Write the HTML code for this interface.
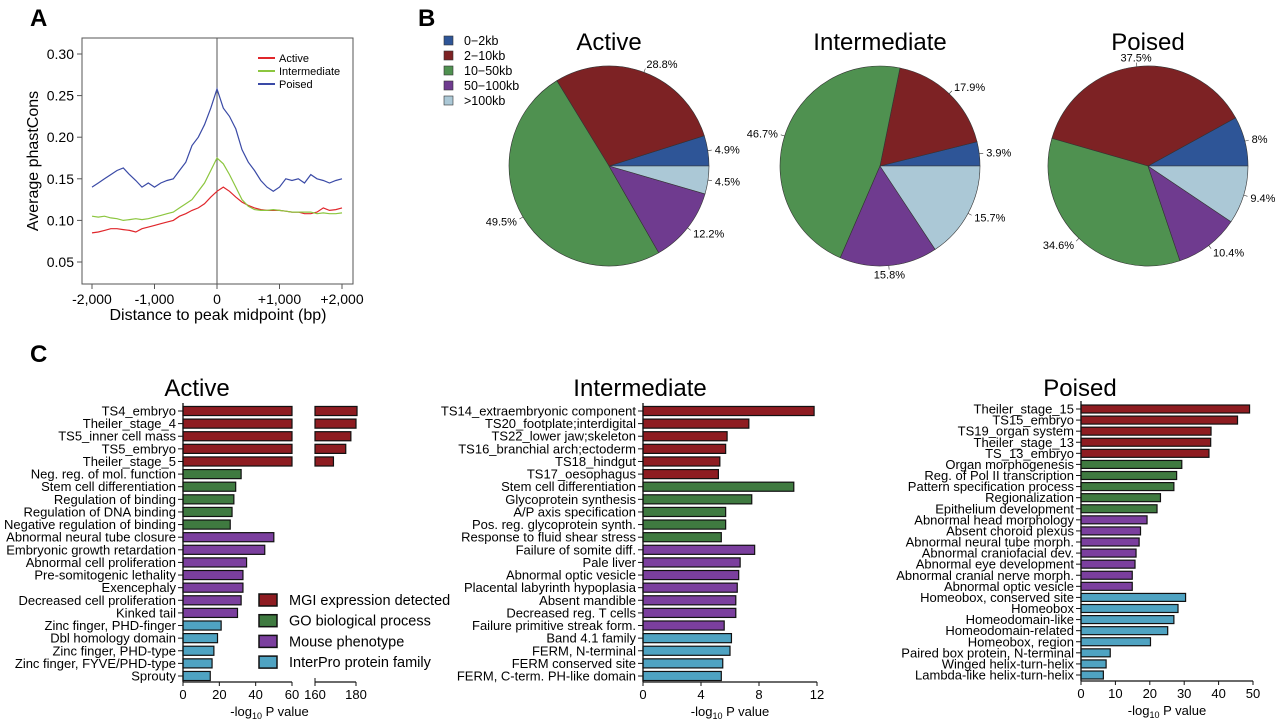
<!DOCTYPE html>
<html><head><meta charset="utf-8"><style>
html,body{margin:0;padding:0;background:#fff;}
svg{display:block;font-family:"Liberation Sans",Arial,sans-serif;}
</style></head><body>
<svg id="fig" width="1280" height="721" viewBox="0 0 1280 721">
<text x="30" y="26" font-size="24" font-weight="bold">A</text>
<text x="418" y="26" font-size="24" font-weight="bold">B</text>
<text x="30" y="362" font-size="24" font-weight="bold">C</text>
<g id="pa"></g>
<g id="pb"></g>
<g id="pc"></g>
</svg>
<script>
// ---------- Panel A data ----------
const aPositions=[-2000,-1900,-1800,-1700,-1600,-1500,-1400,-1300,-1200,-1100,-1000,-900,-800,-700,-600,-500,-400,-300,-200,-100,0,100,200,300,400,500,600,700,800,900,1000,1100,1200,1300,1400,1500,1600,1700,1800,1900,2000];
const aPoised=[0.140,0.145,0.150,0.155,0.160,0.163,0.155,0.148,0.140,0.145,0.140,0.145,0.148,0.150,0.160,0.170,0.190,0.200,0.215,0.235,0.258,0.235,0.225,0.210,0.185,0.170,0.160,0.148,0.140,0.135,0.140,0.150,0.148,0.150,0.145,0.155,0.150,0.148,0.145,0.148,0.150];
const aIntermediate=[0.105,0.104,0.105,0.103,0.102,0.100,0.101,0.102,0.101,0.102,0.104,0.106,0.108,0.110,0.115,0.120,0.125,0.135,0.145,0.160,0.175,0.168,0.155,0.140,0.125,0.117,0.113,0.112,0.112,0.113,0.112,0.111,0.110,0.110,0.110,0.110,0.108,0.109,0.108,0.108,0.109];
const aActive=[0.085,0.086,0.088,0.090,0.090,0.089,0.088,0.086,0.090,0.092,0.094,0.096,0.098,0.100,0.105,0.108,0.112,0.115,0.120,0.128,0.135,0.140,0.135,0.128,0.122,0.118,0.115,0.113,0.112,0.112,0.112,0.111,0.110,0.110,0.108,0.108,0.110,0.115,0.112,0.113,0.115];
const aYTicks=[0.05,0.10,0.15,0.20,0.25,0.30];
const aXTicks=[-2000,-1000,0,1000,2000];
const aXTickLabels=["-2,000","-1,000","0","+1,000","+2,000"];
// ---------- Panel B data ----------
const pieCategories=["0\u22122kb","2\u221210kb","10\u221250kb","50\u2212100kb",">100kb"];
const pieActive=[4.9,28.8,49.5,12.2,4.5];
const pieIntermediate=[3.9,17.9,46.7,15.8,15.7];
const piePoised=[8,37.5,34.6,10.4,9.4];
// ---------- Panel C data ----------
const cActiveLabels=["TS4_embryo","Theiler_stage_4","TS5_inner cell mass","TS5_embryo","Theiler_stage_5","Neg. reg. of mol. function","Stem cell differentiation","Regulation of binding","Regulation of DNA binding","Negative regulation of binding","Abnormal neural tube closure","Embryonic growth retardation","Abnormal cell proliferation","Pre-somitogenic lethality","Exencephaly","Decreased cell proliferation","Kinked tail","Zinc finger, PHD-finger","Dbl homology domain","Zinc finger, PHD-type","Zinc finger, FYVE/PHD-type","Sprouty"];
const cActiveValues=[180.5,180,177.5,175,169,32,29,28,27,26,50,45,35,33,33,32,30,21,19,17,16,15];
const cActiveGroups=[0,0,0,0,0,1,1,1,1,1,2,2,2,2,2,2,2,3,3,3,3,3];
const cInterLabels=["TS14_extraembryonic component","TS20_footplate;interdigital","TS22_lower jaw;skeleton","TS16_branchial arch;ectoderm","TS18_hindgut","TS17_oesophagus","Stem cell differentiation","Glycoprotein synthesis","A/P axis specification","Pos. reg. glycoprotein synth.","Response to fluid shear stress","Failure of somite diff.","Pale liver","Abnormal optic vesicle","Placental labyrinth hypoplasia","Absent mandible","Decreased reg. T cells","Failure primitive streak form.","Band 4.1 family","FERM, N-terminal","FERM conserved site","FERM, C-term. PH-like domain"];
const cInterValues=[11.8,7.3,5.8,5.7,5.3,5.2,10.4,7.5,5.7,5.7,5.4,7.7,6.7,6.6,6.5,6.4,6.4,5.6,6.1,6.0,5.5,5.4];
const cInterGroups=[0,0,0,0,0,0,1,1,1,1,1,2,2,2,2,2,2,2,3,3,3,3];
const cPoisedLabels=["Theiler_stage_15","TS15_embryo","TS19_organ system","Theiler_stage_13","TS_13_embryo","Organ morphogenesis","Reg. of Pol II transcription","Pattern specification process","Regionalization","Epithelium development","Abnormal head morphology","Absent choroid plexus","Abnormal neural tube morph.","Abnormal craniofacial dev.","Abnormal eye development","Abnormal cranial nerve morph.","Abnormal optic vesicle","Homeobox, conserved site","Homeobox","Homeodomain-like","Homeodomain-related","Homeobox, region","Paired box protein, N-terminal","Winged helix-turn-helix","Lambda-like helix-turn-helix"];
const cPoisedValues=[49,45.5,37.8,37.7,37.2,29.3,27.8,27,23.1,22.1,19.2,17.3,16.9,16,15.7,14.9,14.9,30.4,28.2,27,25.2,20.2,8.5,7.3,6.5];
const cPoisedGroups=[0,0,0,0,0,1,1,1,1,1,2,2,2,2,2,2,2,3,3,3,3,3,3,3,3];
const cGroupNames=["MGI expression detected","GO biological process","Mouse phenotype","InterPro protein family"];

const NS="http://www.w3.org/2000/svg";
function mk(parent,tag,attrs,text){const e=document.createElementNS(NS,tag);for(const k in attrs)e.setAttribute(k,attrs[k]);if(text!==undefined)e.textContent=text;parent.appendChild(e);return e;}

// ---------- Panel A ----------
(function(){
const g=document.getElementById('pa');
const L=82,R=353,T=38,B=284;
const xs=v=>92+(v+2000)/4000*250;
const ys=v=>262-(v-0.05)/0.25*208;
let e=mk(g,'rect',{x:L,y:T,width:R-L,height:B-T,fill:'none',stroke:'#555','stroke-width':1});

e=mk(g,'line',{x1:xs(0),x2:xs(0),y1:T,y2:B,stroke:'#555','stroke-width':1});

aYTicks.forEach(t=>{mk(g,'line',{x1:L-5,x2:L,y1:ys(t),y2:ys(t),stroke:'#555'});
e=mk(g,'text',{x:L-8,y:ys(t)+5,'font-size':14,'text-anchor':'end'},t.toFixed(2));
});
aXTicks.forEach((t,i)=>{mk(g,'line',{x1:xs(t),x2:xs(t),y1:B,y2:B+5,stroke:'#555'});
e=mk(g,'text',{x:xs(t),y:B+20,'font-size':14,'text-anchor':'middle'},aXTickLabels[i]);
});
e=mk(g,'text',{x:218,y:320,'font-size':16,'text-anchor':'middle'},'Distance to peak midpoint (bp)');

e=mk(g,'text',{x:0,y:0,'font-size':16,'text-anchor':'middle',transform:'translate(38,161) rotate(-90)'},'Average phastCons');

const series=[[aActive,'#e0262b','Active'],[aIntermediate,'#8cc63f','Intermediate'],[aPoised,'#3a4aa6','Poised']];
series.forEach((s,i)=>{
 const d=s[0].map((v,j)=>(j?'L':'M')+xs(aPositions[j]).toFixed(1)+','+ys(v).toFixed(1)).join('');
 e=mk(g,'path',{d:d,fill:'none',stroke:s[1],'stroke-width':1.2});
 
 mk(g,'line',{x1:258,x2:275,y1:58+i*13,y2:58+i*13,stroke:s[1],'stroke-width':2});
 e=mk(g,'text',{x:279,y:62+i*13,'font-size':11},s[2]);
 
});
})();

// ---------- Panel B ----------
(function(){
const g=document.getElementById('pb');
const cols=['#2e5597','#7d2224','#4f9150','#6f3b8f','#abc8d6'];
let e;
pieCategories.forEach((c,i)=>{
 e=mk(g,'rect',{x:444,y:36+i*15,width:9,height:9,fill:cols[i],stroke:'#333','stroke-width':0.6});
 
 e=mk(g,'text',{x:464,y:45+i*15,'font-size':12.5},c);
 
});
const pies=[[pieActive,609,'Active'],[pieIntermediate,880,'Intermediate'],[piePoised,1148,'Poised']];
pies.forEach(p=>{
 const cx=p[1],cy=166,r=100;
 e=mk(g,'text',{x:cx,y:50,'font-size':24,'text-anchor':'middle'},p[2]);
 
 const tot=p[0].reduce((a,b)=>a+b,0);let a0=0;
 p[0].forEach((v,i)=>{
  const a1=a0+v/tot*2*Math.PI;
  const x0=cx+r*Math.cos(a0),y0=cy-r*Math.sin(a0),x1=cx+r*Math.cos(a1),y1=cy-r*Math.sin(a1);
  const large=(a1-a0)>Math.PI?1:0;
  e=mk(g,'path',{d:`M${cx},${cy}L${x0},${y0}A${r},${r} 0 ${large} 0 ${x1},${y1}Z`,fill:cols[i],stroke:'#333','stroke-width':0.6});
  
  const am=(a0+a1)/2,ca=Math.cos(am),sa=Math.sin(am);
  mk(g,'line',{x1:cx+r*ca,y1:cy-r*sa,x2:cx+(r+4)*ca,y2:cy-(r+4)*sa,stroke:'#333','stroke-width':0.6});
  e=mk(g,'text',{x:cx+(r+7)*ca,y:cy-(r+9)*sa+4,'font-size':11,'text-anchor':ca>0.3?'start':(ca<-0.3?'end':'middle')},v+'%');
  
  a0=a1;
 });
});
})();

// ---------- Panel C ----------
(function(){
const g=document.getElementById('pc');
const cols=['#8e1c21','#3f7a40','#7b3f9e','#4fa3c2'];
let e;
function chart(title,tx,labels,vals,groups,x0,scale,ticks,yTop,yBot,axisY,brk){
 e=mk(g,'text',{x:tx,y:396,'font-size':24,'text-anchor':'middle'},title);
 
 const n=labels.length,step=(yBot-yTop)/(n-1),bh=Math.min(9.5,step*0.72);
 labels.forEach((lb,i)=>{
  const y=yTop+i*step,v=vals[i];
  mk(g,'line',{x1:x0-5,x2:x0,y1:y,y2:y,stroke:'#111'});
  e=mk(g,'text',{x:x0-7,y:y+4.5,'font-size':13,'text-anchor':'end'},lb);
  
  if(brk && v>brk.cut){
   e=mk(g,'rect',{x:x0,y:y-bh/2,width:brk.cut*scale,height:bh,fill:cols[groups[i]],stroke:'#111','stroke-width':1.2});
   
   e=mk(g,'rect',{x:brk.x,y:y-bh/2,width:(v-brk.start)*brk.scale,height:bh,fill:cols[groups[i]],stroke:'#111','stroke-width':1.2});
   
  } else {
   e=mk(g,'rect',{x:x0,y:y-bh/2,width:v*scale,height:bh,fill:cols[groups[i]],stroke:'#111','stroke-width':1.2});
   
  }
 });
 mk(g,'line',{x1:x0,x2:x0,y1:yTop-8,y2:axisY,stroke:'#111','stroke-width':1.3});
 const xEnd=brk?x0+brk.cut*scale:x0+ticks[ticks.length-1]*scale;
 mk(g,'line',{x1:x0,x2:xEnd,y1:axisY,y2:axisY,stroke:'#111','stroke-width':1.3});
 ticks.forEach(t=>{const x=x0+t*scale;mk(g,'line',{x1:x,x2:x,y1:axisY,y2:axisY+4,stroke:'#111'});
  e=mk(g,'text',{x:x,y:axisY+17,'font-size':13,'text-anchor':'middle'},String(t));
  });
 let mid=(x0+xEnd)/2;
 if(brk){
  const bx1=brk.x+(brk.ticks[brk.ticks.length-1]-brk.start)*brk.scale;
  mk(g,'line',{x1:brk.x,x2:bx1,y1:axisY,y2:axisY,stroke:'#111','stroke-width':1.3});
  mk(g,'line',{x1:brk.x,x2:brk.x,y1:axisY-4,y2:axisY+4,stroke:'#111'});
  brk.ticks.forEach(t=>{const x=brk.x+(t-brk.start)*brk.scale;mk(g,'line',{x1:x,x2:x,y1:axisY,y2:axisY+4,stroke:'#111'});
   e=mk(g,'text',{x:x,y:axisY+17,'font-size':13,'text-anchor':'middle'},String(t));
   });
  mid=(x0+bx1)/2;
 }
 e=mk(g,'text',{x:mid,y:axisY+34,'font-size':13,'text-anchor':'middle'});
 
 mk(e,'tspan',{},'-log');mk(e,'tspan',{'font-size':9,dy:3},'10');mk(e,'tspan',{dy:-3},' P value');
}
chart('Active',197,cActiveLabels,cActiveValues,cActiveGroups,183,109/60,[0,20,40,60],411,676,682,{cut:60,x:315,start:160,scale:41/20,ticks:[160,180]});
chart('Intermediate',640,cInterLabels,cInterValues,cInterGroups,643,174/12,[0,4,8,12],411,676,682,null);
chart('Poised',1080,cPoisedLabels,cPoisedValues,cPoisedGroups,1081,172/50,[0,10,20,30,40,50],409,675,681,null);
cGroupNames.forEach((n,i)=>{
 e=mk(g,'rect',{x:259,y:594+i*20.7,width:18,height:12,fill:cols[i],stroke:'#111','stroke-width':1.5});
 
 e=mk(g,'text',{x:289,y:605+i*20.7,'font-size':14.5},n);
 
});
})();
</script>
</body></html>
